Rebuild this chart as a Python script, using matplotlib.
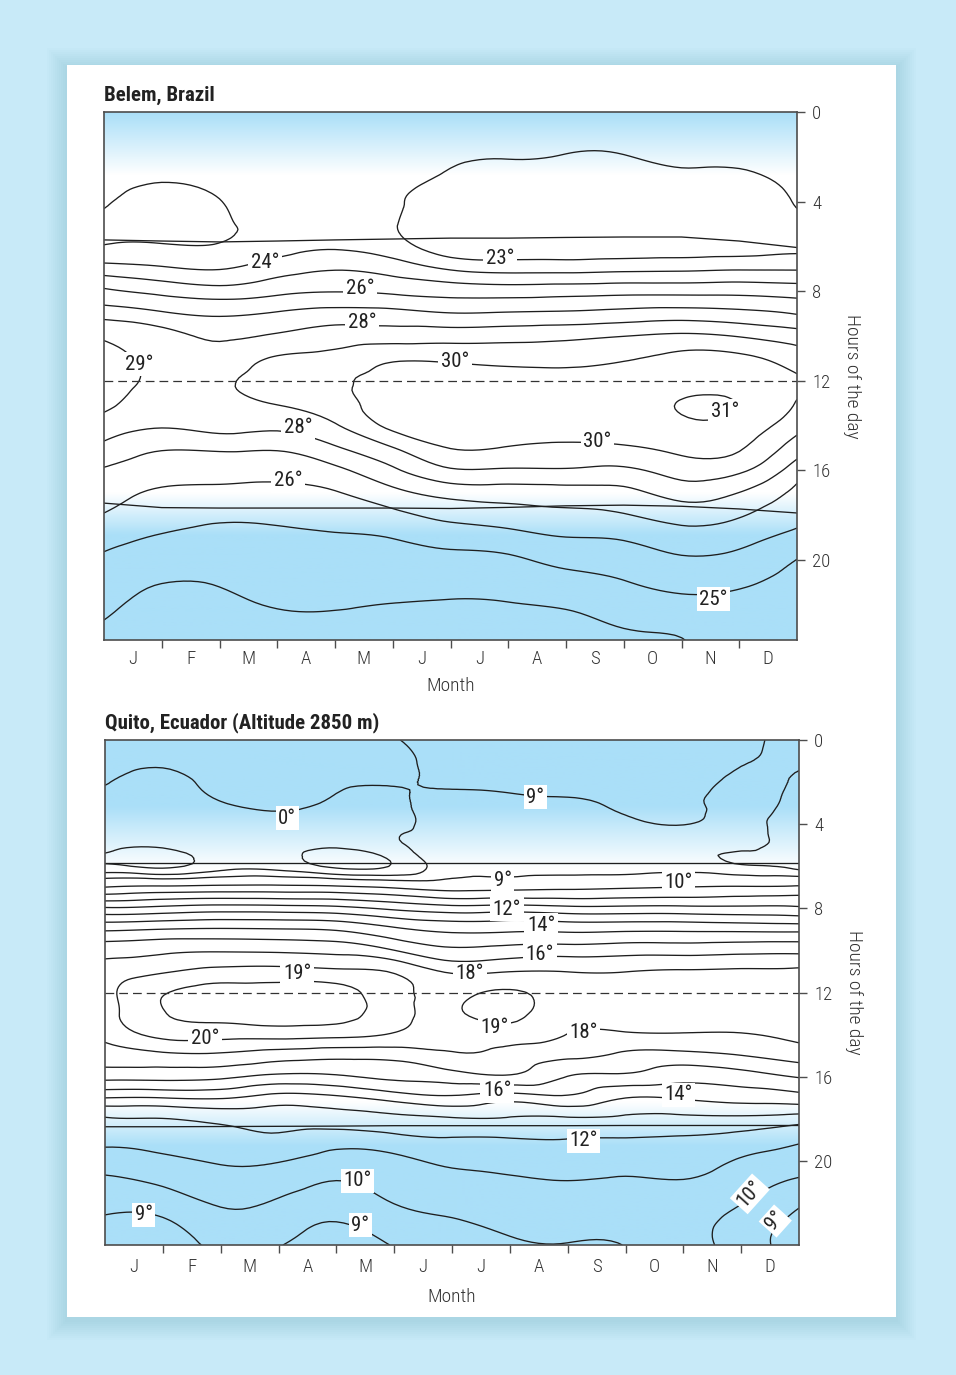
import numpy as np
import matplotlib
matplotlib.use("Agg")
import matplotlib.pyplot as plt
from matplotlib import font_manager
from matplotlib.patches import Rectangle
from matplotlib.colors import LinearSegmentedColormap
from matplotlib.tri import Triangulation, UniformTriRefiner

# grid: month boundaries (Jan 1 ... Dec 31) x hours 0..24
month_pos = np.arange(13)
hours = np.arange(25)
month_labels = ["J", "F", "M", "A", "M", "J", "J", "A", "S", "O", "N", "D"]
hour_ticks = [0, 4, 8, 12, 16, 20]

# ---- Belem: temperature (deg C) for hours 0..24 at each month boundary
belem_jan1 = [23.6, 23.5, 23.4, 23.25, 23.1, 22.85, 23.05, 24.45, 26.18, 27.57, 28.88, 29.3, 29.4, 29.2, 28.55, 27.75, 26.9, 26.43, 25.94, 25.3, 24.85, 24.53, 24.22, 23.9, 23.6]
belem_feb1 = [23.7, 23.6, 23.3, 23.05, 22.7, 22.6, 23.1, 24.15, 25.73, 27.14, 28.4, 28.7, 28.8, 28.6, 28.1, 27.1, 26.44, 25.86, 25.4, 24.91, 24.45, 24.02, 23.7, 23.5, 23.4]
belem_mar1 = [23.7, 23.6, 23.4, 23.2, 22.98, 22.88, 23.07, 23.96, 25.41, 26.86, 27.83, 28.45, 28.85, 28.7, 28.35, 27.18, 26.38, 25.74, 25.15, 24.75, 24.35, 24.05, 23.8, 23.6, 23.5]
belem_apr1 = [23.8, 23.7, 23.6, 23.5, 23.4, 23.3, 23.55, 24.56, 25.75, 27.1, 28.13, 29.1, 29.4, 29.05, 28.25, 27.13, 26.31, 25.69, 25.18, 24.83, 24.57, 24.3, 24.05, 23.8, 23.7]
belem_may1 = [23.8, 23.75, 23.7, 23.6, 23.5, 23.35, 23.85, 24.94, 25.96, 27.38, 28.48, 29.35, 29.85, 29.6, 28.9, 27.88, 26.75, 25.94, 25.38, 24.9, 24.62, 24.34, 24.06, 23.85, 23.75]
belem_jun1 = [23.7, 23.6, 23.45, 23.25, 23.1, 23.05, 23.4, 24.61, 25.81, 27.32, 28.53, 29.85, 30.3, 30.4, 30.25, 28.95, 27.83, 26.7, 25.73, 25.02, 24.67, 24.33, 23.98, 23.8, 23.7]
belem_jul1 = [23.5, 23.35, 23.1, 22.9, 22.7, 22.55, 22.5, 23.9, 25.59, 27.05, 28.56, 29.81, 30.45, 30.6, 30.5, 30.02, 28.86, 27.37, 26.28, 25.38, 24.75, 24.32, 23.9, 23.6, 23.45]
belem_aug1 = [23.4, 23.2, 23.02, 22.8, 22.6, 22.5, 22.5, 23.65, 25.52, 27.11, 28.63, 29.71, 30.35, 30.55, 30.45, 29.95, 28.86, 27.51, 26.52, 25.62, 24.84, 24.4, 23.95, 23.7, 23.55]
belem_sep1 = [23.4, 23.15, 22.98, 22.75, 22.55, 22.45, 22.5, 23.65, 25.6, 27.18, 28.75, 29.7, 30.35, 30.55, 30.45, 29.81, 28.89, 27.58, 26.77, 25.98, 25.26, 24.65, 24.1, 23.75, 23.55]
belem_oct1 = [23.45, 23.2, 22.98, 22.75, 22.55, 22.45, 22.5, 23.75, 25.69, 27.34, 28.98, 29.93, 30.45, 30.65, 30.5, 29.87, 28.81, 27.72, 26.94, 26.1, 25.51, 24.95, 24.5, 24.02, 23.75]
belem_nov1 = [23.55, 23.3, 23.12, 22.85, 22.65, 22.55, 22.55, 23.8, 25.69, 27.46, 29.19, 30.2, 30.6, 31.04, 30.8, 30.25, 29.42, 28.41, 27.39, 26.57, 25.87, 25.3, 24.7, 24.15, 23.95]
belem_dec1 = [23.55, 23.3, 23.15, 22.85, 22.7, 22.6, 22.6, 23.9, 25.7, 27.3, 28.94, 30.2, 30.65, 30.97, 30.65, 30.1, 29.18, 27.98, 27.09, 26.34, 25.7, 25.15, 24.7, 24.4, 24.25]
belem_dec31 = [23.7, 23.55, 23.4, 23.2, 23.05, 22.85, 22.8, 23.9, 25.55, 26.95, 28.5, 29.5, 30.12, 29.95, 29.38, 28.48, 27.48, 26.73, 26.3, 25.7, 24.98, 24.65, 24.35, 24.15, 24.05]
belem_levels = [23, 24, 25, 26, 27, 28, 29, 30, 31]
belem_sunrise = [5.71, 5.76, 5.8, 5.76, 5.71, 5.67, 5.63, 5.63, 5.6, 5.58, 5.58, 5.76, 6.05]
belem_sunset = [17.46, 17.66, 17.68, 17.68, 17.68, 17.68, 17.7, 17.65, 17.58, 17.55, 17.6, 17.72, 17.9]
belem_labels = [("24°", 2.79, 6.74), ("23°", 6.86, 6.52), ("26°", 4.43, 7.86),
                ("28°", 4.47, 9.38), ("29°", 0.61, 11.25), ("30°", 6.08, 11.16),
                ("31°", 10.75, 13.35), ("28°", 3.36, 14.1), ("30°", 8.54, 14.69),
                ("26°", 3.19, 16.47), ("25°", 10.55, 21.74)]

# ---- Quito
quito_jan1 = [8.8, 8.7, 8.52, 8.35, 8.3, 8.25, 8.1, 10.02, 13.13, 15.84, 17.58, 18.5, 18.7, 18.6, 18.3, 17.51, 16.33, 14.02, 11.91, 11.26, 10.5, 9.8, 9.3, 8.85, 8.75]
quito_feb1 = [8.75, 8.58, 8.4, 8.35, 8.3, 8.1, 7.9, 10.2, 13.3, 16.02, 17.8, 18.9, 19.92, 19.95, 19.3, 17.75, 16.33, 14.02, 11.98, 11.38, 10.75, 10.13, 9.48, 8.84, 8.7]
quito_mar1 = [8.8, 8.75, 8.62, 8.48, 8.35, 8.3, 8.3, 10.3, 13.5, 16.1, 17.9, 19.3, 20.4, 20.35, 19.35, 17.8, 16.2, 14.1, 12.27, 11.6, 11.1, 10.6, 10.1, 9.6, 9.15]
quito_apr1 = [8.8, 8.8, 8.7, 8.6, 8.42, 8.3, 8.3, 10.3, 13.45, 16.05, 17.85, 19.35, 20.35, 20.4, 19.4, 17.45, 15.75, 13.6, 12.4, 11.8, 11.06, 10.44, 9.87, 9.45, 9.05]
quito_may1 = [8.75, 8.7, 8.55, 8.45, 8.35, 8.1, 7.9, 10.2, 13.3, 15.9, 17.7, 19.2, 20.4, 20.35, 19.3, 17.27, 15.86, 13.8, 12.52, 11.43, 10.6, 9.97, 9.5, 8.95, 8.6]
quito_jun1 = [8.53, 8.6, 8.52, 8.45, 8.4, 8.4, 8.05, 9.9, 12.8, 15.2, 17.02, 18.9, 19.3, 19.35, 18.9, 17.33, 16.2, 14.4, 12.73, 11.67, 10.77, 10.38, 10.02, 9.5, 9.05]
quito_jul1 = [8.3, 8.35, 8.45, 8.6, 8.7, 8.75, 8.8, 9.62, 12.41, 14.75, 16.2, 17.86, 18.8, 18.9, 18.45, 17.86, 16.52, 14.8, 12.9, 11.93, 11.21, 10.71, 10.29, 9.9, 9.6]
quito_aug1 = [8.3, 8.35, 8.42, 8.56, 8.65, 8.72, 8.78, 9.7, 12.5, 14.8, 16.4, 17.98, 19.1, 19.2, 18.55, 17.67, 16.86, 14.43, 12.92, 11.94, 11.44, 10.82, 10.54, 10.18, 9.9]
quito_sep1 = [8.28, 8.32, 8.4, 8.53, 8.63, 8.7, 8.75, 9.8, 12.3, 14.75, 16.5, 17.98, 18.6, 18.45, 17.98, 17.2, 15.98, 14.8, 12.87, 11.98, 11.52, 10.97, 10.66, 10.31, 9.97]
quito_oct1 = [8.25, 8.3, 8.35, 8.45, 8.57, 8.65, 8.72, 9.9, 12.3, 14.8, 16.6, 17.98, 18.55, 18.6, 17.86, 16.82, 15.76, 14.02, 12.82, 11.94, 11.39, 10.9, 10.67, 10.33, 10.02]
quito_nov1 = [8.25, 8.3, 8.35, 8.42, 8.49, 8.65, 8.78, 10.02, 12.3, 14.8, 16.6, 18.1, 18.6, 18.5, 17.93, 16.67, 15.33, 14.11, 12.78, 11.86, 11.38, 10.95, 10.6, 10.35, 10.3]
quito_dec1 = [8.4, 8.47, 8.58, 8.62, 8.6, 8.6, 8.54, 10.1, 12.25, 14.75, 16.7, 18.15, 18.55, 18.4, 17.95, 16.98, 15.56, 14.38, 12.77, 11.62, 10.91, 10.48, 10.04, 9.6, 9.55]
quito_dec31 = [8.6, 8.54, 8.45, 8.35, 8.3, 8.3, 8.35, 10.18, 12.17, 14.7, 16.73, 18.2, 18.5, 18.4, 18.25, 17.4, 16.07, 14.6, 12.5, 11.15, 10.5, 9.86, 9.14, 8.7, 8.5]
quito_levels = [8.0, 8.5, 9, 10, 11, 12, 13, 14, 15, 16, 17, 18, 19, 20]
quito_sunrise = [5.83] * 13
quito_sunset = [18.38, 18.38, 18.37, 18.36, 18.35, 18.33, 18.33, 18.33, 18.33, 18.32, 18.32, 18.32, 18.32]
quito_labels = [("0°", 3.15, 3.71), ("9°", 7.44, 2.71), ("9°", 6.88, 6.67),
                ("10°", 9.91, 6.76), ("12°", 6.95, 8.05), ("14°", 7.54, 8.81),
                ("16°", 7.52, 10.19), ("19°", 3.32, 11.1), ("18°", 6.31, 11.1),
                ("20°", 1.73, 14.19), ("19°", 6.74, 13.67), ("18°", 8.27, 13.9),
                ("16°", 6.78, 16.67), ("14°", 9.91, 16.86), ("12°", 8.27, 19.05),
                ("10°", 4.37, 20.95), ("9°", 0.67, 22.57), ("9°", 4.41, 23.05),
                ("10°", 11.15, 21.57, 48), ("9°", 11.59, 22.86, 48)]

# fonts: a narrow face is closest to the original lettering
installed = {f.name for f in font_manager.fontManager.ttflist}
narrow = next((f for f in ["Roboto Condensed", "Liberation Sans Narrow", "DejaVu Sans Condensed"]
               if f in installed), "DejaVu Sans")
plt.rcParams["font.family"] = [narrow, "DejaVu Sans"]

BLUE = "#aadff8"
INK = "#1e1e1e"
FRAME = "#4d4d4d"
TXT = "#333333"
night = LinearSegmentedColormap.from_list("night", ["white", BLUE])

# two triangles per grid cell
tris = []
for r in range(len(hours) - 1):
    for c in range(len(month_pos) - 1):
        a = r * len(month_pos) + c
        tris.append([a, a + 1, a + len(month_pos) + 1])
        tris.append([a, a + len(month_pos) + 1, a + len(month_pos)])
X, Y = np.meshgrid(month_pos, hours)
grid = Triangulation(X.ravel(), Y.ravel(), np.array(tris))


def draw_panel(ax, cols, levels, sunrise, sunset, fade, ybottom, labels, title, xpad, xlabpad):
    temp = np.array(cols).T
    fine_tri, fine_t = UniformTriRefiner(grid).refine_field(temp.ravel(), subdiv=3)

    hh = np.linspace(0, 24, 500)
    shade = np.interp(hh, fade[0], fade[1])
    ax.imshow(shade[:, None], extent=[0, 12, 24, 0], aspect="auto", cmap=night,
              vmin=0, vmax=1, zorder=0)

    ax.tricontour(fine_tri, fine_t, levels=levels, colors=INK, linewidths=0.95, zorder=2)
    ax.plot(month_pos, sunrise, color=INK, lw=0.95, zorder=2)
    ax.plot(month_pos, sunset, color=INK, lw=0.95, zorder=2)
    ax.axhline(12, color="#333333", lw=0.9, ls=(0, (7, 4)), zorder=2)

    for lab in labels:
        rot = lab[3] if len(lab) > 3 else 0
        ax.text(lab[1], lab[2], lab[0], fontsize=15, color="#222222", rotation=rot,
                ha="center", va="center", zorder=4,
                bbox=dict(boxstyle="square,pad=0.12", fc="white", ec="none"))

    ax.set_xlim(0, 12)
    ax.set_ylim(ybottom, 0)
    for s in ax.spines.values():
        s.set_color(FRAME)
        s.set_linewidth(1.2)

    ax.set_xticks(range(1, 12))
    ax.set_xticklabels([])
    ax.set_xticks(np.arange(0.5, 12), minor=True)
    ax.set_xticklabels(month_labels, minor=True, fontweight="light")
    ax.tick_params(axis="x", which="major", direction="out", length=6, width=1, color=FRAME)
    ax.tick_params(axis="x", which="minor", length=0, pad=xpad, labelsize=13.5, labelcolor=TXT)

    ax.yaxis.tick_right()
    ax.set_yticks(hour_ticks)
    ax.set_yticklabels([str(h) for h in hour_ticks], fontweight="light")
    ax.tick_params(axis="y", direction="out", length=6, width=1, color=FRAME, pad=5,
                   labelsize=13.5, labelcolor=TXT)
    ax.yaxis.set_label_position("right")
    ax.set_ylabel("Hours of the day", rotation=270, va="bottom", fontsize=14,
                  fontweight="light", color=TXT, labelpad=9)
    ax.set_xlabel("Month", fontsize=14, fontweight="light", color=TXT, labelpad=xlabpad)
    ax.set_title(title, loc="left", fontsize=15, fontweight="bold", color="#222222", pad=8)


fig = plt.figure(figsize=(9.56, 13.75), dpi=100)
fig.patch.set_facecolor("#c8eaf8")

# card with soft shadow
W, H = 956.0, 1375.0
cx0, cy0, cx1, cy1 = 67, 65, 896, 1317
for i in range(10, 0, -1):
    g = i * 2.0
    fig.patches.append(Rectangle(((cx0 - g) / W, 1 - (cy1 + g + 3) / H),
                                 (cx1 - cx0 + 2 * g) / W, (cy1 - cy0 + 2 * g) / H,
                                 transform=fig.transFigure, fc="#5a95b0", ec="none",
                                 alpha=0.022, zorder=-3))
fig.patches.append(Rectangle((cx0 / W, 1 - cy1 / H), (cx1 - cx0) / W, (cy1 - cy0) / H,
                             transform=fig.transFigure, fc="white", ec="none", zorder=-2))

ax1 = fig.add_axes([104 / W, 1 - 640 / H, 693 / W, 528 / H])
ax2 = fig.add_axes([105 / W, 1 - 1245 / H, 694 / W, 505 / H])

draw_panel(ax1,
           [belem_jan1, belem_feb1, belem_mar1, belem_apr1, belem_may1, belem_jun1, belem_jul1,
            belem_aug1, belem_sep1, belem_oct1, belem_nov1, belem_dec1, belem_dec31],
           belem_levels, belem_sunrise, belem_sunset,
           ([0, 2.8, 17.0, 18.9, 24], [1, 0, 0, 1, 1]), 23.57, belem_labels, "Belem, Brazil",
           7.5, 6)
draw_panel(ax2,
           [quito_jan1, quito_feb1, quito_mar1, quito_apr1, quito_may1, quito_jun1, quito_jul1,
            quito_aug1, quito_sep1, quito_oct1, quito_nov1, quito_dec1, quito_dec31],
           quito_levels, quito_sunrise, quito_sunset,
           ([0, 3.1, 6.1, 17.2, 19.3, 24], [1, 1, 0, 0, 1, 1]), 24.0, quito_labels,
           "Quito, Ecuador (Altitude 2850 m)", 9, 9)

fig.savefig("out.png", dpi=100, facecolor=fig.get_facecolor())
